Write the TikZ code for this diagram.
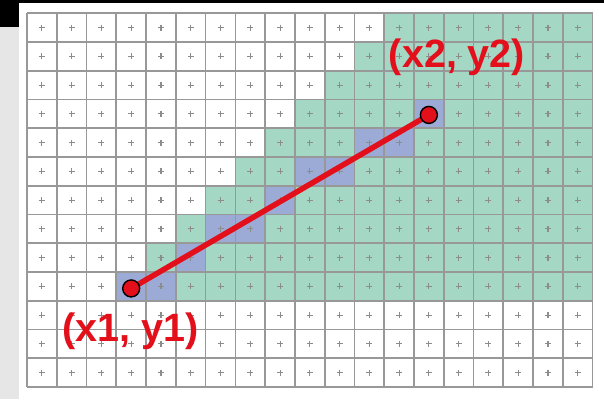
\documentclass[tikz,border=0pt]{standalone}
\usepackage{fontspec}
\setmainfont{Liberation Sans}
\definecolor{cellgreen}{HTML}{A4D8C5}
\definecolor{cellblue}{HTML}{9CAAD6}
\definecolor{gridgray}{HTML}{989898}
\definecolor{plusgray}{HTML}{8C8C8C}
\definecolor{linered}{HTML}{E3101B}
\definecolor{stripgray}{HTML}{E6E6E6}
\tikzset{
  gridline/.style={draw=gridgray, line width=1.7pt},
  plusmark/.style={draw=plusgray, line width=1.1pt},
  redline/.style={draw=linered, line width=5.5pt},
  endpt/.style={circle, fill=linered, draw=black, line width=1.4pt, minimum size=17pt, inner sep=0pt},
  lbl/.style={text=linered, font=\fontsize{39.5}{42}\selectfont\bfseries, inner sep=0pt}
}
\begin{document}
\begin{tikzpicture}[x=1pt,y=-1pt]
\def\W{29.77}
\def\H{28.75}
\def\XO{27}
\def\YO{13.3}
\useasboundingbox (0,0) rectangle (604,399);
% background
\fill[white] (0,0) rectangle (604,399);
\fill[stripgray] (0,27) rectangle (19,399);
\fill[black] (0,0) rectangle (604,3);
\fill[black] (0,0) rectangle (19,27);
% green region
\foreach \r in {0,...,9}{
  \pgfmathtruncatemacro\cs{12-\r}
  \foreach \c in {\cs,...,18}{
    \fill[cellgreen] ({\XO+\c*\W},{\YO+\r*\H}) rectangle ++(\W,\H);
  }
}
% blue cells
\foreach \c/\r in {3/9,4/9,5/8,6/7,7/7,8/6,9/5,10/5,11/4,12/4,13/3}{
  \fill[cellblue] ({\XO+\c*\W},{\YO+\r*\H}) rectangle ++(\W,\H);
}
% grid
\foreach \c in {0,...,19}{
  \draw[gridline] ({\XO+\c*\W},\YO) -- ({\XO+\c*\W},{\YO+13*\H});
}
\foreach \r in {0,...,13}{
  \draw[gridline] (\XO,{\YO+\r*\H}) -- ({\XO+19*\W},{\YO+\r*\H});
}
% plus marks
\foreach \c in {0,...,18}{
  \foreach \r in {0,...,12}{
    \draw[plusmark] ({\XO+(\c+0.5)*\W-3},{\YO+(\r+0.5)*\H}) -- ++(6,0)
                    ({\XO+(\c+0.5)*\W},{\YO+(\r+0.5)*\H-3}) -- ++(0,6);
  }
}
% line
\coordinate (a) at ({\XO+3.5*\W},{\YO+9.5*\H+2});
\coordinate (b) at ({\XO+13.5*\W},{\YO+3.5*\H+1});
\draw[redline] (a) -- (b);
\node[endpt] (p1) at (a) {};
\node[endpt] (p2) at (b) {};
% labels
\node[lbl, anchor=base] (l1) at (130.5,341.5) {(x1, y1)};
\node[lbl, anchor=base] (l2) at (457,67.5) {(x2, y2)};
\end{tikzpicture}
\end{document}
